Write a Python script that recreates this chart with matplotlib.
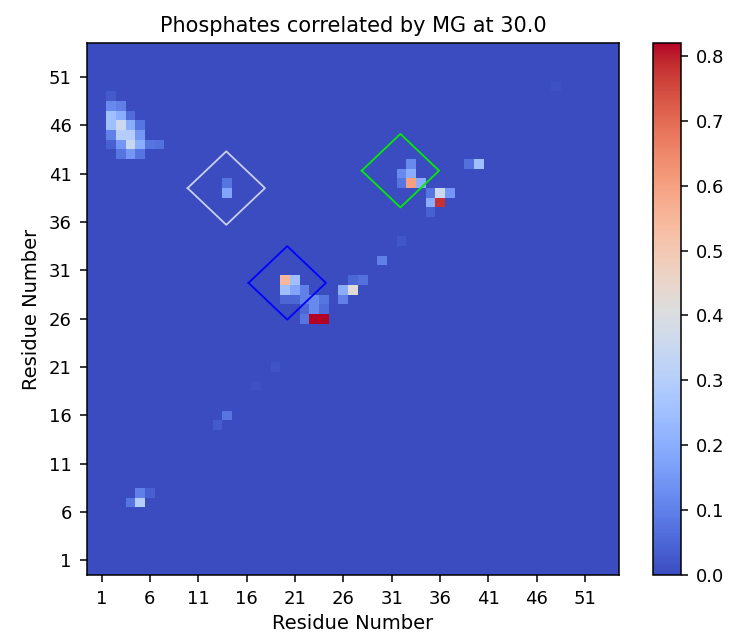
import numpy as np
import matplotlib
matplotlib.use('Agg')
import matplotlib.pyplot as plt

n_res = 55
tick_pos = list(range(1, 52, 5))
tick_labels = [str(t) for t in tick_pos]

# non-zero cells: (residue x, residue y, value)
cell_x = [2, 2, 3, 2, 3, 4, 2, 3, 4, 5, 2, 3, 4, 5, 2, 3, 4, 5, 6, 7, 3, 4, 5,
          14, 14, 20, 21, 20, 21, 22, 20, 21, 22, 23, 24, 22, 23, 24, 22, 23, 24,
          26, 27, 26, 27, 28, 30, 33, 32, 33, 32, 33, 34, 35, 36, 37, 35, 36, 35,
          39, 40, 4, 5, 5, 6, 14, 13, 19, 48, 17, 32]
cell_y = [49, 48, 48, 47, 47, 47, 46, 46, 46, 46, 45, 45, 45, 45, 44, 44, 44, 44, 44, 44, 43, 43, 43,
          40, 39, 30, 30, 29, 29, 29, 28, 28, 28, 28, 28, 27, 27, 27, 26, 26, 26,
          29, 29, 28, 30, 30, 32, 42, 41, 41, 40, 40, 40, 39, 39, 39, 38, 38, 37,
          42, 42, 7, 7, 8, 8, 16, 15, 21, 50, 19, 34]
cell_v = [0.03, 0.12, 0.10, 0.25, 0.20, 0.06, 0.25, 0.36, 0.20, 0.08, 0.10, 0.30, 0.30, 0.15,
          0.04, 0.15, 0.35, 0.20, 0.08, 0.07, 0.08, 0.15, 0.08,
          0.08, 0.18, 0.55, 0.25, 0.25, 0.18, 0.10, 0.05, 0.05, 0.10, 0.12, 0.08,
          0.05, 0.12, 0.06, 0.08, 0.82, 0.82,
          0.20, 0.42, 0.10, 0.05, 0.07, 0.10, 0.12, 0.12, 0.20, 0.08, 0.60, 0.20,
          0.08, 0.36, 0.15, 0.20, 0.78, 0.04,
          0.07, 0.25, 0.08, 0.30, 0.10, 0.04, 0.08, 0.03, 0.015, 0.01, 0.01, 0.02]

# diamond markers: centre x, centre y, colour
box_x = [13.9, 20.2, 31.9]
box_y = [39.5, 29.7, 41.3]
box_c = ['#c8d0f0', 'blue', '#00ee00']
box_w = 4.0
box_h = 3.8

mat = np.zeros((n_res, n_res))
for x, y, v in zip(cell_x, cell_y, cell_v):
    mat[y, x] = v

fig = plt.figure(figsize=(7.3, 6.34), dpi=100)
ax = fig.add_axes([87/730, 59/634, 532/730, 532/634])
cax = fig.add_axes([653/730, 59/634, 28/730, 532/634])

im = ax.imshow(mat, cmap='coolwarm', origin='lower', vmin=0, vmax=mat.max(),
               interpolation='nearest', aspect='auto')
for cx, cy, c in zip(box_x, box_y, box_c):
    ax.plot([cx - box_w, cx, cx + box_w, cx, cx - box_w],
            [cy, cy + box_h, cy, cy - box_h, cy], color=c, lw=1.3)

ax.set_xlim(-0.5, n_res - 0.5)
ax.set_ylim(-0.5, n_res - 0.5)
ax.set_xticks(tick_pos)
ax.set_xticklabels(tick_labels)
ax.set_yticks(tick_pos)
ax.set_yticklabels(tick_labels)
ax.tick_params(labelsize=13, length=5, width=1.1, pad=6)
for s in ax.spines.values():
    s.set_linewidth(1.1)
ax.set_xlabel('Residue Number', fontsize=14, labelpad=4)
ax.set_ylabel('Residue Number', fontsize=14, labelpad=6)
ax.set_title('Phosphates correlated by MG at 30.0', fontsize=15, pad=8)

cb = fig.colorbar(im, cax=cax)
cb.set_ticks(np.arange(0, 0.81, 0.1))
cb.ax.tick_params(labelsize=13, length=5, width=1.1, pad=6)
cb.outline.set_linewidth(1.1)

fig.savefig('out.png', dpi=100)
